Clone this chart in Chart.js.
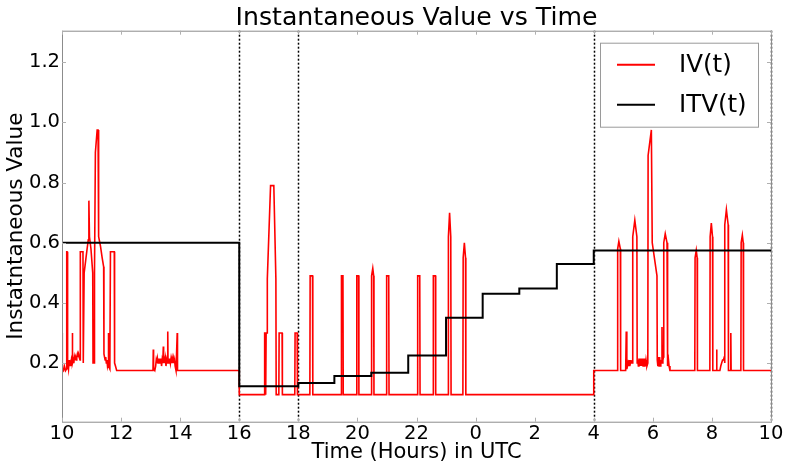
<!DOCTYPE html>
<html>
<head>
<meta charset="utf-8">
<title>Instantaneous Value vs Time</title>
<script src="https://cdn.jsdelivr.net/npm/chart.js@4.4.1/dist/chart.umd.min.js"></script>
<style>
  html, body { margin: 0; padding: 0; background: #fff; }
  #wrap { width: 787px; height: 470px; }
</style>
</head>
<body>
<div id="wrap"><canvas id="myChart" width="787" height="470"></canvas></div>
<script>
// hours are counted on from 10:00, so 24 is midnight and 34 is 10:00 next day
const xTicks = [10, 12, 14, 16, 18, 20, 22, 24, 26, 28, 30, 32, 34];
const yTicks = [0.2, 0.4, 0.6, 0.8, 1.0, 1.2];
const markerHours = [16, 18, 28, 34];

// IV(t): [hour, value]
const ivSeries = [
    [10.00, 0.30], [10.01, 0.18], [10.05, 0.175], [10.08, 0.19], [10.12, 0.175], [10.15, 0.18],
    [10.16, 0.57], [10.17, 0.57], [10.18, 0.18], [10.20, 0.20], [10.22, 0.18], [10.24, 0.21],
    [10.26, 0.19], [10.28, 0.20], [10.30, 0.19], [10.32, 0.21], [10.34, 0.20], [10.35, 0.30],
    [10.36, 0.20], [10.38, 0.21], [10.40, 0.20], [10.42, 0.22], [10.44, 0.21], [10.46, 0.22],
    [10.48, 0.21], [10.50, 0.22], [10.52, 0.23], [10.54, 0.22], [10.56, 0.23], [10.58, 0.22],
    [10.61, 0.21], [10.62, 0.57], [10.71, 0.57], [10.72, 0.20], [10.74, 0.20], [10.75, 0.50],
    [10.80, 0.54], [10.85, 0.58], [10.89, 0.61], [10.91, 0.74], [10.93, 0.62], [10.98, 0.58],
    [11.04, 0.50], [11.05, 0.20], [11.09, 0.20], [11.10, 0.50], [11.13, 0.90], [11.19, 0.975],
    [11.22, 0.975], [11.24, 0.62], [11.30, 0.59], [11.36, 0.55], [11.41, 0.52], [11.42, 0.23],
    [11.44, 0.22], [11.46, 0.21], [11.48, 0.22], [11.50, 0.20], [11.52, 0.21], [11.54, 0.19],
    [11.56, 0.20], [11.57, 0.30], [11.58, 0.19], [11.62, 0.18], [11.64, 0.57], [11.77, 0.57],
    [11.78, 0.20], [11.81, 0.19], [11.85, 0.175],
    [13.08, 0.175], [13.09, 0.245], [13.10, 0.18], [13.14, 0.175], [13.17, 0.19], [13.19, 0.21],
    [13.21, 0.20], [13.23, 0.215], [13.25, 0.20], [13.27, 0.215], [13.29, 0.20], [13.31, 0.215],
    [13.33, 0.20], [13.35, 0.215], [13.37, 0.19], [13.39, 0.21], [13.41, 0.20], [13.43, 0.255],
    [13.44, 0.20], [13.46, 0.215], [13.48, 0.20], [13.50, 0.215], [13.52, 0.19], [13.54, 0.21],
    [13.56, 0.20], [13.58, 0.305], [13.59, 0.20], [13.61, 0.215], [13.63, 0.20], [13.65, 0.215],
    [13.67, 0.20], [13.69, 0.215], [13.71, 0.20], [13.73, 0.215], [13.75, 0.20], [13.77, 0.215],
    [13.79, 0.20], [13.81, 0.21], [13.83, 0.19], [13.86, 0.175], [13.89, 0.175], [13.90, 0.30],
    [13.91, 0.175], [16.00, 0.175], [16.00, 0.095],
    [16.85, 0.095], [16.86, 0.30], [16.88, 0.30], [16.89, 0.095], [16.90, 0.095], [16.91, 0.30],
    [16.94, 0.30], [16.95, 0.48], [17.06, 0.79], [17.17, 0.79], [17.24, 0.48], [17.25, 0.095],
    [17.34, 0.095], [17.35, 0.30], [17.45, 0.30], [17.46, 0.095], [17.88, 0.095], [17.89, 0.30],
    [17.96, 0.30], [17.97, 0.095],
    [18.39, 0.095], [18.40, 0.49], [18.48, 0.49], [18.49, 0.095],
    [19.45, 0.095], [19.46, 0.49], [19.51, 0.49], [19.52, 0.095],
    [19.97, 0.095], [19.98, 0.49], [20.04, 0.49], [20.05, 0.095],
    [20.47, 0.095], [20.48, 0.49], [20.52, 0.515], [20.55, 0.49], [20.56, 0.095],
    [20.98, 0.095], [20.99, 0.49], [21.06, 0.49], [21.07, 0.095],
    [22.03, 0.095], [22.04, 0.49], [22.11, 0.49], [22.12, 0.095],
    [22.56, 0.095], [22.57, 0.49], [22.64, 0.49], [22.65, 0.095],
    [23.07, 0.095], [23.08, 0.62], [23.12, 0.70], [23.16, 0.62], [23.17, 0.095],
    [23.57, 0.095], [23.58, 0.55], [23.62, 0.60], [23.66, 0.55], [23.67, 0.095],
    [28.00, 0.095], [28.00, 0.175],
    [28.80, 0.175], [28.81, 0.58], [28.85, 0.605], [28.90, 0.58], [28.91, 0.175], [29.08, 0.175],
    [29.10, 0.305], [29.12, 0.18], [29.14, 0.19], [29.16, 0.20], [29.18, 0.19], [29.20, 0.21],
    [29.22, 0.19], [29.24, 0.20], [29.26, 0.21], [29.28, 0.20], [29.31, 0.20], [29.32, 0.62],
    [29.39, 0.675], [29.46, 0.62], [29.47, 0.20], [29.49, 0.21], [29.51, 0.19], [29.53, 0.215],
    [29.55, 0.19], [29.57, 0.215], [29.59, 0.19], [29.61, 0.215], [29.63, 0.19], [29.65, 0.215],
    [29.67, 0.19], [29.69, 0.215], [29.71, 0.19], [29.73, 0.215], [29.75, 0.19], [29.77, 0.21],
    [29.80, 0.19], [29.83, 0.20], [29.84, 0.89], [29.95, 0.975], [29.98, 0.60], [30.14, 0.49],
    [30.15, 0.21], [30.17, 0.19], [30.19, 0.22], [30.21, 0.19], [30.23, 0.22], [30.25, 0.19],
    [30.27, 0.21], [30.29, 0.20], [30.31, 0.32], [30.32, 0.20], [30.34, 0.21], [30.36, 0.22],
    [30.37, 0.60], [30.42, 0.63], [30.48, 0.60], [30.49, 0.21], [30.51, 0.19], [30.53, 0.21],
    [30.55, 0.19], [30.58, 0.175],
    [31.42, 0.175], [31.43, 0.55], [31.47, 0.575], [31.50, 0.55], [31.51, 0.175],
    [31.93, 0.175], [31.94, 0.62], [31.98, 0.665], [32.02, 0.62], [32.03, 0.175],
    [32.15, 0.175], [32.16, 0.245], [32.17, 0.175], [32.27, 0.175], [32.30, 0.19], [32.33, 0.20],
    [32.36, 0.21], [32.39, 0.21], [32.42, 0.22], [32.43, 0.20], [32.44, 0.66], [32.49, 0.71],
    [32.55, 0.66], [32.56, 0.175], [32.63, 0.175], [32.64, 0.30], [32.65, 0.175],
    [32.98, 0.175], [32.99, 0.60], [33.03, 0.625], [33.06, 0.60], [33.07, 0.175], [34.00, 0.175]
];

// ITV(t): level starts at each hour, held until the next one
const itvSeries = [
    [10, 0.60], [16, 0.123], [18, 0.134], [19.22, 0.157], [20.47, 0.168], [21.72, 0.225],
    [23.0, 0.351], [24.24, 0.43], [25.48, 0.448], [26.75, 0.529], [28.0, 0.574], [34, 0.574]
];

const FONT = 'DejaVu Sans';

function toPoints(series) {
    return series.map(([x, y]) => ({ x: x, y: y }));
}

// dotted hour markers, the axes frame and the boxed legend
const extras = {
    id: 'extras',
    afterLayout(chart) {
        // center the title over the plot, not the whole canvas
        if (chart.titleBlock) {
            chart.titleBlock.left = chart.chartArea.left;
            chart.titleBlock.right = chart.chartArea.right;
        }
    },
    beforeDatasetsDraw(chart) {
        const { ctx, chartArea, scales } = chart;
        ctx.save();
        ctx.strokeStyle = '#000';
        ctx.lineWidth = 1.5;
        ctx.setLineDash([2, 2]);
        markerHours.forEach(h => {
            const x = Math.round(scales.x.getPixelForValue(h)) + 0.5;
            ctx.beginPath();
            ctx.moveTo(x, chartArea.top);
            ctx.lineTo(x, chartArea.bottom);
            ctx.stroke();
        });
        ctx.restore();
    },
    afterDatasetsDraw(chart) {
        const { ctx, chartArea, scales } = chart;
        const { left, right, top, bottom } = chartArea;
        ctx.save();
        ctx.strokeStyle = '#8c8c8c';
        ctx.lineWidth = 1;
        ctx.strokeRect(left + 0.5, top + 0.5, right - left, bottom - top);

        // small inward ticks like the original
        ctx.strokeStyle = '#b0b0b0';
        xTicks.forEach(v => {
            const x = Math.round(scales.x.getPixelForValue(v)) + 0.5;
            ctx.beginPath();
            ctx.moveTo(x, top); ctx.lineTo(x, top + 4);
            ctx.moveTo(x, bottom); ctx.lineTo(x, bottom - 4);
            ctx.stroke();
        });
        yTicks.forEach(v => {
            const y = Math.round(scales.y.getPixelForValue(v)) + 0.5;
            ctx.beginPath();
            ctx.moveTo(left, y); ctx.lineTo(left + 4, y);
            ctx.moveTo(right, y); ctx.lineTo(right - 4, y);
            ctx.stroke();
        });

        // legend box in the upper right corner
        const boxW = 158, boxH = 84;
        const bx = right - 13 - boxW;
        const by = top + 12;
        ctx.fillStyle = '#fff';
        ctx.fillRect(bx, by, boxW, boxH);
        ctx.strokeStyle = '#9a9a9a';
        ctx.strokeRect(bx + 0.5, by + 0.5, boxW, boxH);

        ctx.font = '24.5px ' + FONT;
        ctx.textBaseline = 'middle';
        ctx.textAlign = 'left';
        chart.data.datasets.forEach((ds, i) => {
            const y = by + 22 + i * 40;
            ctx.strokeStyle = ds.borderColor;
            ctx.lineWidth = 2;
            ctx.beginPath();
            ctx.moveTo(bx + 17, y);
            ctx.lineTo(bx + 55, y);
            ctx.stroke();
            ctx.fillStyle = '#000';
            ctx.fillText(ds.label, bx + 79, y + 1);
        });
        ctx.restore();
    }
};

function createChart() {
    const ctx = document.getElementById('myChart').getContext('2d');
    const tickFont = { family: FONT, size: 19.5 };

    new Chart(ctx, {
        type: 'line',
        data: {
            datasets: [
                {
                    label: 'IV(t)',
                    data: toPoints(ivSeries),
                    borderColor: '#ff0000',
                    borderWidth: 1.6,
                    pointRadius: 0,
                    tension: 0,
                    order: 1
                },
                {
                    label: 'ITV(t)',
                    data: toPoints(itvSeries),
                    borderColor: '#000000',
                    borderWidth: 2,
                    pointRadius: 0,
                    stepped: 'before',
                    order: 0
                }
            ]
        },
        options: {
            responsive: false,
            animation: false,
            devicePixelRatio: 1,
            layout: {
                padding: { left: 0, right: 16, top: 0, bottom: 0 }
            },
            plugins: {
                legend: { display: false },
                tooltip: { enabled: false },
                title: {
                    display: true,
                    text: 'Instantaneous Value vs Time',
                    color: '#000',
                    font: { family: FONT, size: 25.2, weight: 'normal', lineHeight: 1 },
                    padding: { top: 5.5, bottom: 0 }
                }
            },
            scales: {
                x: {
                    type: 'linear',
                    min: 10,
                    max: 34,
                    afterBuildTicks: scale => {
                        scale.ticks = xTicks.map(v => ({ value: v }));
                    },
                    afterFit: scale => {
                        scale.height = 48.3;
                    },
                    grid: { display: false, drawTicks: false },
                    border: { display: false },
                    ticks: {
                        padding: 1,
                        color: '#000',
                        font: tickFont,
                        maxRotation: 0,
                        autoSkip: false,
                        callback: v => String(v % 24)
                    },
                    title: {
                        display: true,
                        text: 'Time (Hours) in UTC',
                        color: '#000',
                        font: { family: FONT, size: 21 },
                        padding: { top: 0, bottom: 5 }
                    }
                },
                y: {
                    min: 0.005,
                    max: 1.305,
                    afterBuildTicks: scale => {
                        scale.ticks = yTicks.map(v => ({ value: v }));
                    },
                    afterFit: scale => {
                        scale.width = 62;
                    },
                    grid: { display: false, drawTicks: false },
                    border: { display: false },
                    ticks: {
                        padding: 2,
                        color: '#000',
                        font: tickFont,
                        callback: v => v.toFixed(1)
                    },
                    title: {
                        display: true,
                        text: 'Instatntaneous Value',
                        color: '#000',
                        font: { family: FONT, size: 21.5 },
                        padding: { top: 4, bottom: 0 }
                    }
                }
            }
        },
        plugins: [extras]
    });
}

document.addEventListener('DOMContentLoaded', createChart);
</script>
</body>
</html>
